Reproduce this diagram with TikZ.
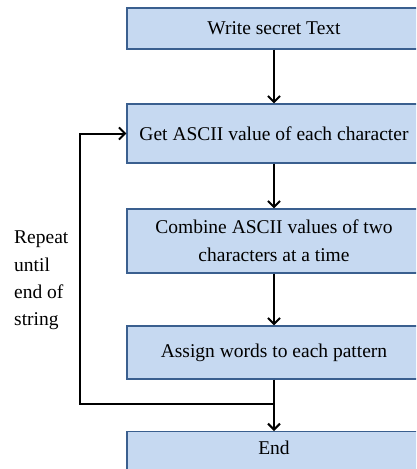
\documentclass[tikz,border=0pt]{standalone}
\usepackage{fontspec}
\setmainfont{Liberation Serif}
\usetikzlibrary{arrows.meta,positioning}
\begin{document}
\begin{tikzpicture}[x=1pt,y=-1pt,
  box/.style={draw=boxedge,fill=boxfill,line width=1.2pt,minimum width=294pt,align=center,font=\fontsize{19.5}{28}\selectfont,inner sep=0pt},
  conn/.style={line width=2pt,-{Straight Barb[length=6pt,width=12pt,line width=2pt]}},
  lbl/.style={align=left,font=\fontsize{19.5}{27.3}\selectfont,anchor=north west,inner sep=0pt}]
\definecolor{boxfill}{HTML}{C6D9F1}
\definecolor{boxedge}{HTML}{3A5F8F}
\clip (0,0) rectangle (416,469);
\useasboundingbox (0,0) rectangle (416,469);
\node[box,minimum height=41pt] (a) at (274,28.5) {Write secret Text};
\node[box,minimum height=59pt] (b) at (274,133.5) {Get ASCII value of each character};
\node[box,minimum height=64pt] (c) at (274,241) {Combine ASCII values of two\\characters at a time};
\node[box,minimum height=53pt] (d) at (274,352.5) {Assign words to each pattern};
\node[box,anchor=north,text height=18pt,text depth=30pt,inner ysep=5pt] (e) at (274,431) {End};
\coordinate (j) at (274,404);
\coordinate (l) at (80,404);
\draw[conn] (a) -- (b);
\draw[conn] (b) -- (c);
\draw[conn] (c) -- (d);
\draw[conn] (d) -- (e);
\draw[conn] (j) -- (l) |- (b.west);
\node[lbl] (t) at (14,231) {Repeat\\until\\end of\\string};
\end{tikzpicture}
\end{document}
